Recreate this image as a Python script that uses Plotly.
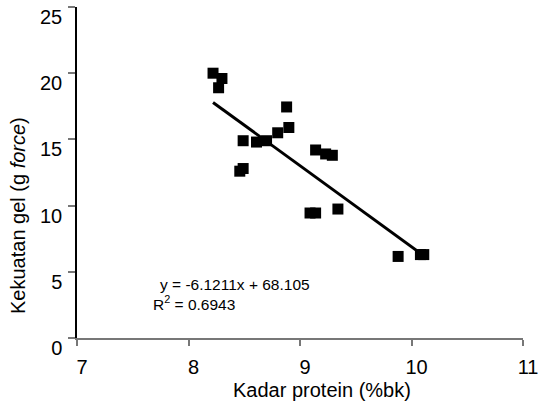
import plotly.graph_objects as go
import numpy as np

protein = [8.22, 8.30, 8.27, 8.88, 8.90, 8.80, 8.70, 8.61, 8.49, 9.14,
           9.23, 9.29, 8.49, 8.46, 9.09, 9.14, 9.34, 9.88, 10.08, 10.11]
gel = [20.0, 19.6, 18.9, 17.45, 15.9, 15.5, 14.9, 14.8, 14.9, 14.2,
       13.9, 13.8, 12.8, 12.6, 9.44, 9.44, 9.74, 6.16, 6.3, 6.3]
slope = -6.1211
intercept = 68.105
r2 = 0.6943
x_ticks = [7, 8, 9, 10, 11]
y_ticks = [0, 5, 10, 15, 20, 25]

FONT = "Liberation Sans, Arial, sans-serif"

line_x = np.array([min(protein), max(protein)])
line_y = slope * line_x + intercept

fig = go.Figure()
fig.add_trace(go.Scatter(x=protein, y=gel, mode="markers",
                         marker=dict(symbol="square", size=11, color="black"),
                         showlegend=False, hoverinfo="x+y"))
fig.add_trace(go.Scatter(x=line_x, y=line_y, mode="lines",
                         line=dict(color="black", width=3),
                         showlegend=False, hoverinfo="skip"))

L, R, T, B = 77, 15, 7, 72
W, H = 538, 410
pw, ph = W - L - R, H - T - B

def px(xpix):
    return (xpix - L) / pw

def py(ypix):
    return (H - B - ypix) / ph

fig.update_layout(
    width=W, height=H,
    margin=dict(l=L, r=R, t=T, b=B, autoexpand=False),
    paper_bgcolor="white", plot_bgcolor="white",
    font=dict(family=FONT, color="black", size=20),
    xaxis=dict(range=[7, 11], tickvals=x_ticks, showgrid=False, zeroline=False,
               showline=True, linecolor="#777", linewidth=1.5,
               ticks="outside", ticklen=6, tickcolor="#777", tickwidth=1.5,
               tickfont=dict(size=20, family=FONT, color="black"),
               ticklabelshift=5, ticklabelstandoff=4, ticklabeloverflow="allow"),
    yaxis=dict(range=[0, 25], tickvals=y_ticks, showgrid=False, zeroline=False,
               showline=True, linecolor="black", linewidth=1.5,
               ticks="outside", ticklen=7, tickcolor="#777", tickwidth=1.5,
               tickfont=dict(size=20, family=FONT, color="black"),
               ticklabelshift=10, ticklabelstandoff=2, ticklabeloverflow="allow"),
    annotations=[
        dict(text="Kekuatan gel (g <i>force</i>)", xref="paper", yref="paper",
             x=px(18), y=py(216), textangle=-90, showarrow=False,
             font=dict(size=20, family=FONT, color="black"),
             xanchor="center", yanchor="middle"),
        dict(text="Kadar protein (%bk)", xref="paper", yref="paper",
             x=px(321.7), y=py(390), showarrow=False,
             font=dict(size=20, family=FONT, color="black"),
             xanchor="center", yanchor="middle"),
        dict(text=f"y = {slope}x + {intercept}", xref="paper", yref="paper",
             x=px(158), y=py(284), showarrow=False,
             font=dict(size=15.5, family=FONT, color="black"),
             xanchor="left", yanchor="middle"),
        dict(text=f"R<sup>2</sup> = {r2}", xref="paper", yref="paper",
             x=px(150.7), y=py(303), showarrow=False,
             font=dict(size=15.5, family=FONT, color="black"),
             xanchor="left", yanchor="middle"),
    ],
)

fig.write_html("out.html", config={"displayModeBar": False},
               post_script="document.body.style.margin='0';")
